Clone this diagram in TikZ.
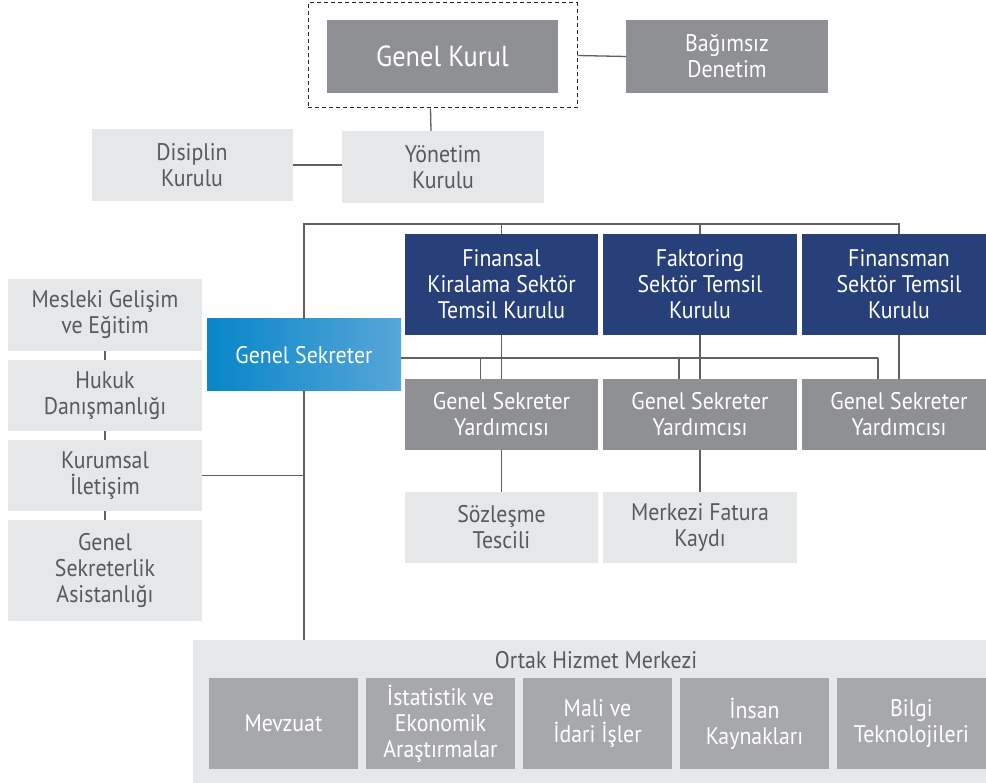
\documentclass[tikz,border=0pt]{standalone}
\usepackage{fontspec}
\setmainfont{PT Sans}[FakeStretch=0.91]
\usetikzlibrary{positioning,calc}

\definecolor{boxgray}{HTML}{8F9094}
\definecolor{boxlight}{HTML}{E6E7E8}
\definecolor{boxnavy}{HTML}{27407A}
\definecolor{unitgray}{HTML}{A7A8AB}
\definecolor{txtgray}{HTML}{58595B}
\definecolor{linegray}{HTML}{606163}
\definecolor{gsleft}{HTML}{0786C8}
\definecolor{gsright}{HTML}{57A6D8}

\begin{document}
\begin{tikzpicture}[x=1pt, y=-1pt,
        every node/.style={align=center, inner sep=0pt, font=\fontsize{24}{26}\selectfont},
        orgbox/.style={rectangle, minimum width=194pt, minimum height=72pt},
        graybox/.style={orgbox, fill=boxgray, text=white},
        lightbox/.style={orgbox, fill=boxlight, text=txtgray},
        navybox/.style={orgbox, fill=boxnavy, text=white, minimum height=101pt},
        unitbox/.style={orgbox, fill=unitgray, text=white, minimum width=149pt, minimum height=91pt},
        conn/.style={draw=linegray, line width=1.3pt}]
        \fill[white] (0,0) rectangle (986,783);
        \useasboundingbox (0,0) rectangle (986,783);
        \clip (0,0) rectangle (986,783);

        % Genel Kurul
        \node[rectangle, draw=black!85, dashed, dash pattern=on 4pt off 3pt, line width=1pt,
            minimum width=269pt, minimum height=105pt] (gkframe) at (442.5,55.5) {};
        \node[graybox, minimum width=231pt, minimum height=73pt,
            font=\fontsize{29}{30}\selectfont] (gkurul) at (442.5,56.5) {Genel Kurul};
        \node[graybox, minimum width=202pt, minimum height=73pt] (bdenetim) at (727,56.5) {Bağımsız\\Denetim};
        \draw[conn] (gkframe.east) -- (bdenetim.west);

        % Yonetim
        \node[lightbox, minimum width=202pt] (yonetim) at (443,167) {Yönetim\\Kurulu};
        \node[lightbox, minimum width=201pt] (disiplin) at (192,165) {Disiplin\\Kurulu};
        \draw[conn] ([xshift=-12pt]gkframe.south) -- ([xshift=-12pt]yonetim.north);
        \draw[conn] (disiplin.east) -- (disiplin.east -| yonetim.west);

        % Genel Sekreter
        \node[orgbox, left color=gsleft, right color=gsright, text=white] (gsek) at (304,355) {Genel Sekreter};

        % Left units
        \node[lightbox] (mesleki) at (105,315) {Mesleki Gelişim\\ve Eğitim};
        \node[lightbox, minimum height=71pt] (hukuk) at (105,395.5) {Hukuk\\Danışmanlığı};
        \node[lightbox, minimum height=71pt] (kurumsal) at (105,475.5) {Kurumsal\\İletişim};
        \node[lightbox, minimum height=101pt] (asist) at (105,570.5) {Genel\\Sekreterlik\\Asistanlığı};
        \draw[conn] (mesleki.south) -- (hukuk.north);
        \draw[conn] (hukuk.south) -- (kurumsal.north);
        \draw[conn] (kurumsal.south) -- (asist.north);

        % Sektor temsil kurullari
        \node[navybox, minimum width=193pt] (kurul1) at (501.5,284.5) {Finansal\\Kiralama Sektör\\Temsil Kurulu};
        \node[navybox] (kurul2) at (700,284.5) {Faktoring\\Sektör Temsil\\Kurulu};
        \node[navybox] (kurul3) at (899,284.5) {Finansman\\Sektör Temsil\\Kurulu};

        % Yardimcilar
        \node[graybox, minimum width=193pt, minimum height=71pt] (yard1) at (501.5,414.5) {Genel Sekreter\\Yardımcısı};
        \node[graybox, minimum height=71pt] (yard2) at (700,414.5) {Genel Sekreter\\Yardımcısı};
        \node[graybox, minimum height=71pt] (yard3) at (899,414.5) {Genel Sekreter\\Yardımcısı};
        \node[lightbox, minimum width=193pt, minimum height=71pt] (sozlesme) at (501.5,527.5) {Sözleşme\\Tescili};
        \node[lightbox, minimum height=71pt] (fatura) at (700,527.5) {Merkezi Fatura\\Kaydı};

        % Ortak Hizmet Merkezi
        \node[rectangle, fill=boxlight, minimum width=807pt, minimum height=150pt] (ortak) at (596.5,715) {};
        \node[text=txtgray] (ortaktitle) at (596,660) {Ortak Hizmet Merkezi};
        \node[unitbox] (mevzuat) at (283.5,723.5) {Mevzuat};
        \node[unitbox] (istatistik) at (440.5,723.5) {İstatistik ve\\Ekonomik\\Araştırmalar};
        \node[unitbox] (mali) at (597.5,723.5) {Mali ve\\İdari İşler};
        \node[unitbox] (insan) at (754.5,723.5) {İnsan\\Kaynakları};
        \node[unitbox] (bilgi) at (911.5,723.5) {Bilgi\\Teknolojileri};

        % Trunk
        \coordinate (topbar) at (304,224);
        \draw[conn] (gsek.north) -- (topbar) -| (kurul3.north);
        \draw[conn] (kurul1.north |- topbar) -- (kurul1.north);
        \draw[conn] (kurul2.north |- topbar) -- (kurul2.north);
        \draw[conn] (gsek.south) -- (gsek.south |- ortak.north);
        \draw[conn] (kurumsal.east) -- (kurumsal.east -| gsek.south);

        % Genel Sekreter bar
        \coordinate (gsbar) at (878,358);
        \draw[conn] (gsek.east |- gsbar) -- (gsbar);
        \draw[conn] ([xshift=-21pt]yard1.north |- gsbar) -- ([xshift=-21pt]yard1.north);
        \draw[conn] ([xshift=-21pt]yard2.north |- gsbar) -- ([xshift=-21pt]yard2.north);
        \draw[conn] (gsbar) -- ([xshift=-21pt]yard3.north);
        \draw[conn] (kurul1.south) -- (yard1.north);
        \draw[conn] (kurul2.south) -- (yard2.north);
        \draw[conn] (kurul3.south) -- (yard3.north);
        \draw[conn] (yard1.south) -- (sozlesme.north);
        \draw[conn] (yard2.south) -- (fatura.north);
    \end{tikzpicture}
\end{document}
